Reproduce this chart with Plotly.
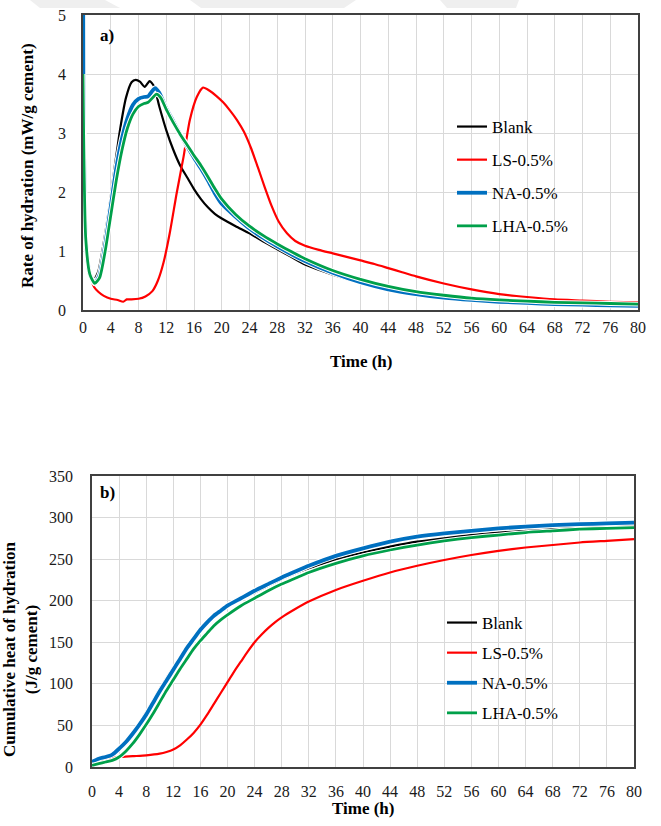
import plotly.graph_objects as go

W, H = 661, 826

# ---------------- data: (a) rate of hydration ----------------
t_blank_rate = [0, 0.4, 1.0, 1.6, 2.2, 3.0, 3.8, 4.6, 5.4, 6.2, 7.0, 7.6, 8.2, 8.9, 9.6, 10.2, 11.0, 12.0, 13.0, 14.0,
                15.0, 16.0, 17.0, 18.0, 19.0, 20.0, 22.0, 24.0, 26.0, 28.0, 30.0, 32.0, 36.0, 40.0, 44.0, 48.0, 52.0,
                56.0, 60.0, 64.0, 68.0, 72.0, 76.0, 80.0]
blank_rate = [2.2, 1.1, 0.65, 0.52, 0.65, 1.15, 1.75, 2.45, 3.1, 3.6, 3.86, 3.9, 3.87, 3.78, 3.88, 3.8, 3.45, 3.05,
              2.72, 2.45, 2.25, 2.05, 1.88, 1.74, 1.63, 1.55, 1.42, 1.3, 1.16, 1.03, 0.9, 0.77, 0.6, 0.46, 0.35, 0.26,
              0.2, 0.16, 0.13, 0.11, 0.1, 0.09, 0.08, 0.07]

t_ls_rate = [0, 0.4, 1.0, 1.6, 2.2, 3.0, 4.0, 5.0, 5.8, 6.3, 7.0, 8.0, 9.0, 10.0, 10.8, 11.6, 12.5, 13.5, 14.5, 15.4,
             16.4, 17.3, 18.2, 19.2, 20.2, 21.2, 22.2, 23.2, 24.2, 25.2, 26.2, 27.2, 28.2, 29.4, 30.6, 32.0, 34.0,
             36.0, 38.0, 40.0, 42.0, 44.0, 46.0, 48.0, 52.0, 56.0, 60.0, 64.0, 68.0, 72.0, 76.0, 80.0]
ls_rate = [3.0, 1.2, 0.6, 0.39, 0.31, 0.24, 0.19, 0.17, 0.14, 0.18, 0.18, 0.19, 0.23, 0.32, 0.5, 0.8, 1.3, 1.98, 2.6,
           3.22, 3.61, 3.77, 3.72, 3.63, 3.52, 3.38, 3.22, 3.02, 2.75, 2.42, 2.08, 1.76, 1.5, 1.3, 1.17, 1.09, 1.02,
           0.96, 0.9, 0.84, 0.78, 0.71, 0.64, 0.57, 0.45, 0.35, 0.27, 0.22, 0.18, 0.16, 0.14, 0.13]

t_na_rate = [0, 0.05, 0.4, 1.0, 1.7, 2.4, 3.2, 4.0, 4.8, 5.6, 6.4, 7.2, 8.0, 8.8, 9.4, 9.9, 10.4, 11.0, 12.0, 13.0,
             14.0, 15.0, 16.0, 17.0, 18.0, 19.0, 20.0, 22.0, 24.0, 26.0, 28.0, 30.0, 32.0, 36.0, 40.0, 44.0, 48.0,
             52.0, 56.0, 60.0, 64.0, 68.0, 72.0, 76.0, 80.0]
na_rate = [6.5, 4.0, 1.2, 0.6, 0.45, 0.6, 1.1, 1.75, 2.4, 2.9, 3.25, 3.48, 3.58, 3.61, 3.62, 3.7, 3.76, 3.68, 3.42,
           3.2, 2.98, 2.78, 2.58, 2.4, 2.2, 1.98, 1.8, 1.58, 1.38, 1.22, 1.08, 0.95, 0.83, 0.63, 0.47, 0.35, 0.27,
           0.21, 0.17, 0.14, 0.12, 0.1, 0.09, 0.08, 0.07]

t_lha_rate = [0, 0.4, 1.0, 1.7, 2.4, 3.2, 4.0, 4.8, 5.6, 6.4, 7.2, 8.0, 8.8, 9.4, 9.9, 10.6, 11.2, 12.0, 13.0, 14.0,
              15.0, 16.0, 17.0, 18.0, 19.0, 20.0, 22.0, 24.0, 26.0, 28.0, 30.0, 32.0, 36.0, 40.0, 44.0, 48.0, 52.0,
              56.0, 60.0, 64.0, 68.0, 72.0, 76.0, 80.0]
lha_rate = [4.0, 1.2, 0.6, 0.45, 0.55, 1.0, 1.6, 2.2, 2.7, 3.08, 3.32, 3.45, 3.5, 3.52, 3.58, 3.66, 3.6, 3.4, 3.18,
            2.98, 2.8, 2.62, 2.45, 2.26, 2.06, 1.88, 1.62, 1.42, 1.26, 1.12, 0.99, 0.87, 0.67, 0.52, 0.4, 0.31, 0.25,
            0.2, 0.17, 0.15, 0.13, 0.12, 0.11, 0.1]

# ---------------- data: (b) cumulative heat ----------------
t_cum = [0, 1, 2, 3, 4, 5, 6, 7, 8, 9, 10, 11, 12, 13, 14, 15, 16, 17, 18, 19, 20, 22, 24, 26, 28, 30, 32, 36, 40,
         44, 48, 52, 56, 60, 64, 68, 72, 76, 80]
blank_cum = [3, 7, 10, 14, 21, 30, 41, 53, 66, 80, 94, 107, 120, 132, 144, 155, 165, 173, 181, 187, 193, 202, 210,
             218, 226, 233, 239, 250, 258, 265, 271, 275, 279, 282, 284, 286, 288, 289, 290]
na_cum = [6, 10, 12, 15, 22, 30, 40, 51, 63, 77, 91, 104, 117, 130, 143, 154, 165, 174, 182, 188, 194, 203, 212,
          220, 228, 235, 242, 254, 263, 271, 277, 281, 284, 287, 289, 291, 292, 293, 294]
lha_cum = [2, 4, 6, 8, 12, 19, 28, 39, 51, 64, 78, 92, 105, 118, 130, 142, 152, 161, 170, 177, 183, 194, 203, 212,
           220, 227, 234, 245, 254, 261, 267, 272, 276, 279, 282, 284, 286, 287, 288]
t_ls_cum = [0, 1, 2, 3, 4, 6, 8, 10, 11, 12, 13, 14, 15, 16, 17, 18, 19, 20, 21, 22, 23, 24, 25, 26, 27, 28, 30, 32,
            36, 40, 44, 48, 52, 56, 60, 64, 68, 72, 76, 80]
ls_cum = [3, 8, 10, 11, 12, 13, 14, 16, 18, 21, 26, 33, 41, 51, 63, 76, 89, 102, 115, 127, 139, 150, 159, 167, 174,
          180, 190, 199, 213, 224, 234, 242, 249, 255, 260, 264, 267, 270, 272, 274]

names = ["Blank", "LS-0.5%", "NA-0.5%", "LHA-0.5%"]
colors = ["#000000", "#FF0000", "#0070C0", "#00A04A"]
widths = [2.2, 2.2, 3.8, 2.8]

FONT = "'Liberation Serif', 'Times New Roman', Times, serif"

def px_x(p):
    return p / W

def px_y(p):
    return 1 - p / H

fig = go.Figure()

top_series = [(t_blank_rate, blank_rate), (t_ls_rate, ls_rate), (t_na_rate, na_rate), (t_lha_rate, lha_rate)]
bot_series = [(t_cum, blank_cum), (t_ls_cum, ls_cum), (t_cum, na_cum), (t_cum, lha_cum)]

for (series, xa, ya, leg) in [(top_series, "x", "y", "legend"), (bot_series, "x2", "y2", "legend2")]:
    for i, (tx, vy) in enumerate(series):
        if i >= 2:
            fig.add_trace(go.Scatter(x=tx, y=vy, mode="lines", xaxis=xa, yaxis=ya, showlegend=False,
                                     hoverinfo="skip",
                                     line=dict(color="white", width=widths[i] + 2.0, shape="spline", smoothing=0.6)))
        fig.add_trace(go.Scatter(x=tx, y=vy, mode="lines", name=names[i], xaxis=xa, yaxis=ya, legend=leg,
                                 legendgroup=f"{leg}{i}",
                                 line=dict(color=colors[i], width=widths[i], shape="spline", smoothing=0.6)))

axis_common = dict(
    showgrid=True, gridcolor="#D9D9D9", gridwidth=1.3,
    showline=True, linecolor="#404040", linewidth=1.5, mirror=True,
    ticks="", zeroline=False, automargin=False,
    tickfont=dict(family=FONT, size=16, color="#1a1a1a"),
)

fig.update_layout(
    width=W, height=H,
    autosize=False,
    margin=dict(l=0, r=0, t=0, b=0, pad=0, autoexpand=False),
    paper_bgcolor="white", plot_bgcolor="white",
    font=dict(family=FONT, color="#000000"),
    xaxis=dict(domain=[px_x(83), px_x(638)], range=[0, 80], dtick=4, tick0=0, anchor="y",
               ticklabelstandoff=2, **axis_common),
    yaxis=dict(domain=[px_y(310), px_y(15)], range=[0, 5], dtick=1, anchor="x",
               ticklabelstandoff=12, **axis_common),
    xaxis2=dict(domain=[px_x(92), px_x(634)], range=[0, 80], dtick=4, tick0=0, anchor="y2",
                ticklabelstandoff=9, **axis_common),
    yaxis2=dict(domain=[px_y(767), px_y(476)], range=[0, 350], dtick=50, anchor="x2",
                ticklabelstandoff=14, **axis_common),
    legend=dict(x=px_x(452), y=px_y(109), xanchor="left", yanchor="top",
                bgcolor="rgba(0,0,0,0)", font=dict(family=FONT, size=17, color="#000000"),
                tracegroupgap=8, itemwidth=30),
    legend2=dict(x=px_x(442), y=px_y(605), xanchor="left", yanchor="top",
                 bgcolor="rgba(0,0,0,0)", font=dict(family=FONT, size=17, color="#000000"),
                 tracegroupgap=5, itemwidth=30),
    showlegend=True,
)

ann_font = dict(family=FONT, size=17, color="#000000")
common_ann = dict(xref="paper", yref="paper", showarrow=False, xanchor="center", yanchor="middle", font=ann_font)
annotations = [
    dict(text="<b>a)</b>", x=px_x(107), y=px_y(35), **common_ann),
    dict(text="<b>b)</b>", x=px_x(107), y=px_y(492), **common_ann),
    dict(text="<b>Time (h)</b>", x=px_x(361), y=px_y(361), **common_ann),
    dict(text="<b>Time (h)</b>", x=px_x(363), y=px_y(808), **common_ann),
    dict(text="<b>Rate of hydration (mW/g cement)</b>", x=px_x(27), y=px_y(166), textangle=-90, **common_ann),
    dict(text="<b>Cumulative heat of hydration<br>(J/g cement)</b>", x=px_x(20), y=px_y(650), textangle=-90,
         **common_ann),
]
fig.update_layout(annotations=annotations)

wm = [[(30, 0), (105, 0), (120, 8), (40, 8)],
      [(190, 0), (356, 0), (344, 8), (201, 8)],
      [(440, 0), (519, 0), (516, 8), (447, 8)]]
shapes = []
for poly in wm:
    path = "M " + " L ".join(f"{px_x(a)},{px_y(b)}" for a, b in poly) + " Z"
    shapes.append(dict(type="path", path=path, xref="paper", yref="paper", fillcolor="#EFEFEF",
                       line=dict(width=0), layer="below"))
fig.update_layout(shapes=shapes)

fig.write_html("out.html", config={"displayModeBar": False},
               post_script="document.body.style.margin='0px';")
